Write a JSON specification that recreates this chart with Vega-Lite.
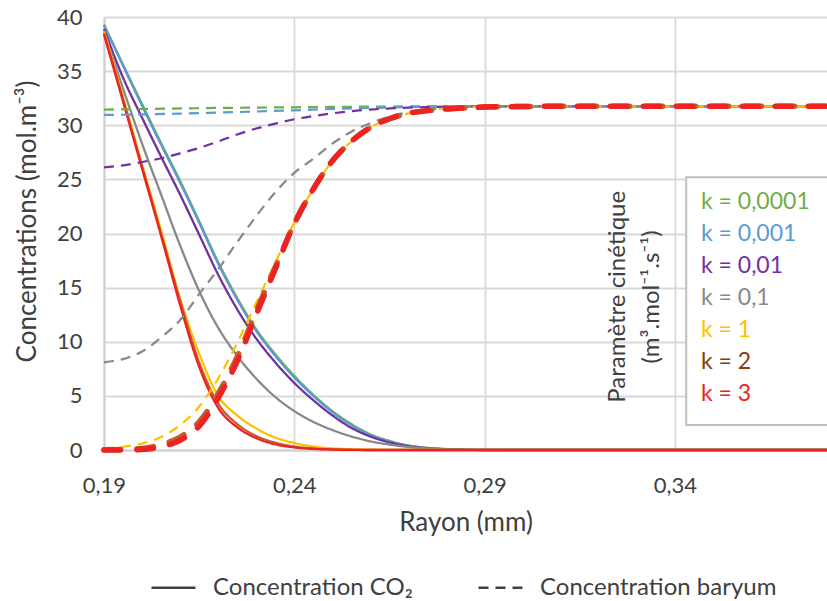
{
"$schema": "https://vega.github.io/schema/vega-lite/v6.json",
"width": 723, "height": 433,
"autosize": {"type": "none"},
"padding": {"left": 104, "top": 17, "right": 0, "bottom": 151},
"background": "white",
"config": {
  "font": "Lato",
  "view": {"stroke": null},
  "axis": {"labelFont": "Lato", "titleFont": "Lato", "labelColor": "#404040", "titleColor": "#404040", "gridColor": "#D9D9D9", "gridWidth": 1.8, "domainColor": "#D0D0D0", "domainWidth": 2, "ticks": false, "labelFontSize": 22, "titleFontSize": 26, "titleFontWeight": "normal"},
  "legend": {"labelFont": "Lato", "titleFont": "Lato", "titleFontWeight": "normal"}
},
"datasets": {"curves": [
{"k":"k = 0,0001","t":"Concentration CO₂","r":0.19,"c":39.3},{"k":"k = 0,0001","t":"Concentration CO₂","r":0.195,"c":35.6},{"k":"k = 0,0001","t":"Concentration CO₂","r":0.2,"c":31.95},{"k":"k = 0,0001","t":"Concentration CO₂","r":0.205,"c":28.35},{"k":"k = 0,0001","t":"Concentration CO₂","r":0.21,"c":24.85},{"k":"k = 0,0001","t":"Concentration CO₂","r":0.215,"c":21.15},{"k":"k = 0,0001","t":"Concentration CO₂","r":0.22,"c":17.35},{"k":"k = 0,0001","t":"Concentration CO₂","r":0.225,"c":14.05},{"k":"k = 0,0001","t":"Concentration CO₂","r":0.23,"c":11.15},{"k":"k = 0,0001","t":"Concentration CO₂","r":0.235,"c":8.85},{"k":"k = 0,0001","t":"Concentration CO₂","r":0.24,"c":6.85},{"k":"k = 0,0001","t":"Concentration CO₂","r":0.245,"c":5.1},{"k":"k = 0,0001","t":"Concentration CO₂","r":0.25,"c":3.6},{"k":"k = 0,0001","t":"Concentration CO₂","r":0.255,"c":2.4},{"k":"k = 0,0001","t":"Concentration CO₂","r":0.26,"c":1.45},{"k":"k = 0,0001","t":"Concentration CO₂","r":0.265,"c":0.85},{"k":"k = 0,0001","t":"Concentration CO₂","r":0.27,"c":0.42},{"k":"k = 0,0001","t":"Concentration CO₂","r":0.275,"c":0.2},{"k":"k = 0,0001","t":"Concentration CO₂","r":0.28,"c":0.09},{"k":"k = 0,0001","t":"Concentration CO₂","r":0.285,"c":0.035},{"k":"k = 0,0001","t":"Concentration CO₂","r":0.29,"c":0.01},{"k":"k = 0,0001","t":"Concentration CO₂","r":0.3,"c":0},{"k":"k = 0,0001","t":"Concentration CO₂","r":0.38,"c":0},
{"k":"k = 0,001","t":"Concentration CO₂","r":0.19,"c":39.2},{"k":"k = 0,001","t":"Concentration CO₂","r":0.195,"c":35.5},{"k":"k = 0,001","t":"Concentration CO₂","r":0.2,"c":31.8},{"k":"k = 0,001","t":"Concentration CO₂","r":0.205,"c":28.2},{"k":"k = 0,001","t":"Concentration CO₂","r":0.21,"c":24.7},{"k":"k = 0,001","t":"Concentration CO₂","r":0.215,"c":21.0},{"k":"k = 0,001","t":"Concentration CO₂","r":0.22,"c":17.2},{"k":"k = 0,001","t":"Concentration CO₂","r":0.225,"c":13.9},{"k":"k = 0,001","t":"Concentration CO₂","r":0.23,"c":11.0},{"k":"k = 0,001","t":"Concentration CO₂","r":0.235,"c":8.7},{"k":"k = 0,001","t":"Concentration CO₂","r":0.24,"c":6.7},{"k":"k = 0,001","t":"Concentration CO₂","r":0.245,"c":5.0},{"k":"k = 0,001","t":"Concentration CO₂","r":0.25,"c":3.5},{"k":"k = 0,001","t":"Concentration CO₂","r":0.255,"c":2.3},{"k":"k = 0,001","t":"Concentration CO₂","r":0.26,"c":1.4},{"k":"k = 0,001","t":"Concentration CO₂","r":0.265,"c":0.8},{"k":"k = 0,001","t":"Concentration CO₂","r":0.27,"c":0.4},{"k":"k = 0,001","t":"Concentration CO₂","r":0.275,"c":0.18},{"k":"k = 0,001","t":"Concentration CO₂","r":0.28,"c":0.08},{"k":"k = 0,001","t":"Concentration CO₂","r":0.285,"c":0.03},{"k":"k = 0,001","t":"Concentration CO₂","r":0.29,"c":0.01},{"k":"k = 0,001","t":"Concentration CO₂","r":0.3,"c":0},{"k":"k = 0,001","t":"Concentration CO₂","r":0.38,"c":0},
{"k":"k = 0,01","t":"Concentration CO₂","r":0.19,"c":38.9},{"k":"k = 0,01","t":"Concentration CO₂","r":0.195,"c":34.4},{"k":"k = 0,01","t":"Concentration CO₂","r":0.2,"c":30.7},{"k":"k = 0,01","t":"Concentration CO₂","r":0.205,"c":27.1},{"k":"k = 0,01","t":"Concentration CO₂","r":0.21,"c":23.6},{"k":"k = 0,01","t":"Concentration CO₂","r":0.215,"c":19.9},{"k":"k = 0,01","t":"Concentration CO₂","r":0.22,"c":16.2},{"k":"k = 0,01","t":"Concentration CO₂","r":0.225,"c":13.0},{"k":"k = 0,01","t":"Concentration CO₂","r":0.23,"c":10.3},{"k":"k = 0,01","t":"Concentration CO₂","r":0.235,"c":8.1},{"k":"k = 0,01","t":"Concentration CO₂","r":0.24,"c":6.2},{"k":"k = 0,01","t":"Concentration CO₂","r":0.245,"c":4.6},{"k":"k = 0,01","t":"Concentration CO₂","r":0.25,"c":3.2},{"k":"k = 0,01","t":"Concentration CO₂","r":0.255,"c":2.05},{"k":"k = 0,01","t":"Concentration CO₂","r":0.26,"c":1.25},{"k":"k = 0,01","t":"Concentration CO₂","r":0.265,"c":0.7},{"k":"k = 0,01","t":"Concentration CO₂","r":0.27,"c":0.35},{"k":"k = 0,01","t":"Concentration CO₂","r":0.275,"c":0.15},{"k":"k = 0,01","t":"Concentration CO₂","r":0.28,"c":0.07},{"k":"k = 0,01","t":"Concentration CO₂","r":0.285,"c":0.02},{"k":"k = 0,01","t":"Concentration CO₂","r":0.29,"c":0},{"k":"k = 0,01","t":"Concentration CO₂","r":0.38,"c":0},
{"k":"k = 0,1","t":"Concentration CO₂","r":0.19,"c":38.6},{"k":"k = 0,1","t":"Concentration CO₂","r":0.195,"c":33.4},{"k":"k = 0,1","t":"Concentration CO₂","r":0.2,"c":28.3},{"k":"k = 0,1","t":"Concentration CO₂","r":0.205,"c":23.6},{"k":"k = 0,1","t":"Concentration CO₂","r":0.21,"c":18.9},{"k":"k = 0,1","t":"Concentration CO₂","r":0.215,"c":14.7},{"k":"k = 0,1","t":"Concentration CO₂","r":0.22,"c":11.3},{"k":"k = 0,1","t":"Concentration CO₂","r":0.225,"c":8.7},{"k":"k = 0,1","t":"Concentration CO₂","r":0.23,"c":6.6},{"k":"k = 0,1","t":"Concentration CO₂","r":0.235,"c":4.9},{"k":"k = 0,1","t":"Concentration CO₂","r":0.24,"c":3.6},{"k":"k = 0,1","t":"Concentration CO₂","r":0.245,"c":2.6},{"k":"k = 0,1","t":"Concentration CO₂","r":0.25,"c":1.85},{"k":"k = 0,1","t":"Concentration CO₂","r":0.255,"c":1.25},{"k":"k = 0,1","t":"Concentration CO₂","r":0.26,"c":0.8},{"k":"k = 0,1","t":"Concentration CO₂","r":0.265,"c":0.5},{"k":"k = 0,1","t":"Concentration CO₂","r":0.27,"c":0.28},{"k":"k = 0,1","t":"Concentration CO₂","r":0.275,"c":0.14},{"k":"k = 0,1","t":"Concentration CO₂","r":0.28,"c":0.06},{"k":"k = 0,1","t":"Concentration CO₂","r":0.285,"c":0.02},{"k":"k = 0,1","t":"Concentration CO₂","r":0.29,"c":0},{"k":"k = 0,1","t":"Concentration CO₂","r":0.38,"c":0},
{"k":"k = 1","t":"Concentration CO₂","r":0.19,"c":38.7},{"k":"k = 1","t":"Concentration CO₂","r":0.195,"c":32.6},{"k":"k = 1","t":"Concentration CO₂","r":0.2,"c":26.4},{"k":"k = 1","t":"Concentration CO₂","r":0.205,"c":20.3},{"k":"k = 1","t":"Concentration CO₂","r":0.21,"c":14.0},{"k":"k = 1","t":"Concentration CO₂","r":0.215,"c":8.9},{"k":"k = 1","t":"Concentration CO₂","r":0.22,"c":5.0},{"k":"k = 1","t":"Concentration CO₂","r":0.225,"c":3.2},{"k":"k = 1","t":"Concentration CO₂","r":0.23,"c":2.0},{"k":"k = 1","t":"Concentration CO₂","r":0.235,"c":1.15},{"k":"k = 1","t":"Concentration CO₂","r":0.24,"c":0.65},{"k":"k = 1","t":"Concentration CO₂","r":0.245,"c":0.32},{"k":"k = 1","t":"Concentration CO₂","r":0.25,"c":0.15},{"k":"k = 1","t":"Concentration CO₂","r":0.255,"c":0.07},{"k":"k = 1","t":"Concentration CO₂","r":0.26,"c":0.03},{"k":"k = 1","t":"Concentration CO₂","r":0.265,"c":0.01},{"k":"k = 1","t":"Concentration CO₂","r":0.27,"c":0},{"k":"k = 1","t":"Concentration CO₂","r":0.38,"c":0},
{"k":"k = 2","t":"Concentration CO₂","r":0.19,"c":38.5},{"k":"k = 2","t":"Concentration CO₂","r":0.195,"c":32.4},{"k":"k = 2","t":"Concentration CO₂","r":0.2,"c":26.2},{"k":"k = 2","t":"Concentration CO₂","r":0.205,"c":20.0},{"k":"k = 2","t":"Concentration CO₂","r":0.21,"c":13.8},{"k":"k = 2","t":"Concentration CO₂","r":0.215,"c":8.1},{"k":"k = 2","t":"Concentration CO₂","r":0.22,"c":4.3},{"k":"k = 2","t":"Concentration CO₂","r":0.225,"c":2.4},{"k":"k = 2","t":"Concentration CO₂","r":0.23,"c":1.3},{"k":"k = 2","t":"Concentration CO₂","r":0.235,"c":0.68},{"k":"k = 2","t":"Concentration CO₂","r":0.24,"c":0.32},{"k":"k = 2","t":"Concentration CO₂","r":0.245,"c":0.14},{"k":"k = 2","t":"Concentration CO₂","r":0.25,"c":0.06},{"k":"k = 2","t":"Concentration CO₂","r":0.255,"c":0.02},{"k":"k = 2","t":"Concentration CO₂","r":0.26,"c":0},{"k":"k = 2","t":"Concentration CO₂","r":0.38,"c":0},
{"k":"k = 3","t":"Concentration CO₂","r":0.19,"c":38.4},{"k":"k = 3","t":"Concentration CO₂","r":0.195,"c":32.2},{"k":"k = 3","t":"Concentration CO₂","r":0.2,"c":26.0},{"k":"k = 3","t":"Concentration CO₂","r":0.205,"c":19.8},{"k":"k = 3","t":"Concentration CO₂","r":0.21,"c":13.4},{"k":"k = 3","t":"Concentration CO₂","r":0.215,"c":7.7},{"k":"k = 3","t":"Concentration CO₂","r":0.22,"c":3.9},{"k":"k = 3","t":"Concentration CO₂","r":0.225,"c":2.1},{"k":"k = 3","t":"Concentration CO₂","r":0.23,"c":1.1},{"k":"k = 3","t":"Concentration CO₂","r":0.235,"c":0.52},{"k":"k = 3","t":"Concentration CO₂","r":0.24,"c":0.24},{"k":"k = 3","t":"Concentration CO₂","r":0.245,"c":0.1},{"k":"k = 3","t":"Concentration CO₂","r":0.25,"c":0.04},{"k":"k = 3","t":"Concentration CO₂","r":0.255,"c":0.01},{"k":"k = 3","t":"Concentration CO₂","r":0.26,"c":0},{"k":"k = 3","t":"Concentration CO₂","r":0.38,"c":0},
{"k":"k = 0,0001","t":"Concentration baryum","r":0.19,"c":31.45},{"k":"k = 0,0001","t":"Concentration baryum","r":0.2,"c":31.5},{"k":"k = 0,0001","t":"Concentration baryum","r":0.21,"c":31.55},{"k":"k = 0,0001","t":"Concentration baryum","r":0.22,"c":31.6},{"k":"k = 0,0001","t":"Concentration baryum","r":0.23,"c":31.63},{"k":"k = 0,0001","t":"Concentration baryum","r":0.24,"c":31.66},{"k":"k = 0,0001","t":"Concentration baryum","r":0.25,"c":31.69},{"k":"k = 0,0001","t":"Concentration baryum","r":0.26,"c":31.72},{"k":"k = 0,0001","t":"Concentration baryum","r":0.27,"c":31.74},{"k":"k = 0,0001","t":"Concentration baryum","r":0.28,"c":31.75},{"k":"k = 0,0001","t":"Concentration baryum","r":0.38,"c":31.75},
{"k":"k = 0,001","t":"Concentration baryum","r":0.19,"c":30.95},{"k":"k = 0,001","t":"Concentration baryum","r":0.2,"c":31.0},{"k":"k = 0,001","t":"Concentration baryum","r":0.21,"c":31.08},{"k":"k = 0,001","t":"Concentration baryum","r":0.22,"c":31.17},{"k":"k = 0,001","t":"Concentration baryum","r":0.23,"c":31.27},{"k":"k = 0,001","t":"Concentration baryum","r":0.24,"c":31.38},{"k":"k = 0,001","t":"Concentration baryum","r":0.25,"c":31.5},{"k":"k = 0,001","t":"Concentration baryum","r":0.26,"c":31.6},{"k":"k = 0,001","t":"Concentration baryum","r":0.27,"c":31.68},{"k":"k = 0,001","t":"Concentration baryum","r":0.28,"c":31.73},{"k":"k = 0,001","t":"Concentration baryum","r":0.38,"c":31.75},
{"k":"k = 0,01","t":"Concentration baryum","r":0.19,"c":26.1},{"k":"k = 0,01","t":"Concentration baryum","r":0.195,"c":26.3},{"k":"k = 0,01","t":"Concentration baryum","r":0.2,"c":26.6},{"k":"k = 0,01","t":"Concentration baryum","r":0.205,"c":26.95},{"k":"k = 0,01","t":"Concentration baryum","r":0.21,"c":27.4},{"k":"k = 0,01","t":"Concentration baryum","r":0.215,"c":27.9},{"k":"k = 0,01","t":"Concentration baryum","r":0.22,"c":28.5},{"k":"k = 0,01","t":"Concentration baryum","r":0.225,"c":29.15},{"k":"k = 0,01","t":"Concentration baryum","r":0.23,"c":29.7},{"k":"k = 0,01","t":"Concentration baryum","r":0.235,"c":30.15},{"k":"k = 0,01","t":"Concentration baryum","r":0.24,"c":30.55},{"k":"k = 0,01","t":"Concentration baryum","r":0.245,"c":30.85},{"k":"k = 0,01","t":"Concentration baryum","r":0.25,"c":31.1},{"k":"k = 0,01","t":"Concentration baryum","r":0.255,"c":31.3},{"k":"k = 0,01","t":"Concentration baryum","r":0.26,"c":31.45},{"k":"k = 0,01","t":"Concentration baryum","r":0.265,"c":31.55},{"k":"k = 0,01","t":"Concentration baryum","r":0.27,"c":31.63},{"k":"k = 0,01","t":"Concentration baryum","r":0.275,"c":31.68},{"k":"k = 0,01","t":"Concentration baryum","r":0.28,"c":31.72},{"k":"k = 0,01","t":"Concentration baryum","r":0.285,"c":31.74},{"k":"k = 0,01","t":"Concentration baryum","r":0.29,"c":31.75},{"k":"k = 0,01","t":"Concentration baryum","r":0.38,"c":31.75},
{"k":"k = 0,1","t":"Concentration baryum","r":0.19,"c":8.1},{"k":"k = 0,1","t":"Concentration baryum","r":0.195,"c":8.4},{"k":"k = 0,1","t":"Concentration baryum","r":0.2,"c":9.1},{"k":"k = 0,1","t":"Concentration baryum","r":0.205,"c":10.4},{"k":"k = 0,1","t":"Concentration baryum","r":0.21,"c":12.0},{"k":"k = 0,1","t":"Concentration baryum","r":0.215,"c":14.4},{"k":"k = 0,1","t":"Concentration baryum","r":0.22,"c":16.7},{"k":"k = 0,1","t":"Concentration baryum","r":0.225,"c":19.2},{"k":"k = 0,1","t":"Concentration baryum","r":0.23,"c":21.6},{"k":"k = 0,1","t":"Concentration baryum","r":0.235,"c":23.8},{"k":"k = 0,1","t":"Concentration baryum","r":0.24,"c":25.6},{"k":"k = 0,1","t":"Concentration baryum","r":0.245,"c":26.9},{"k":"k = 0,1","t":"Concentration baryum","r":0.25,"c":28.3},{"k":"k = 0,1","t":"Concentration baryum","r":0.255,"c":29.4},{"k":"k = 0,1","t":"Concentration baryum","r":0.26,"c":30.2},{"k":"k = 0,1","t":"Concentration baryum","r":0.265,"c":30.8},{"k":"k = 0,1","t":"Concentration baryum","r":0.27,"c":31.2},{"k":"k = 0,1","t":"Concentration baryum","r":0.275,"c":31.45},{"k":"k = 0,1","t":"Concentration baryum","r":0.28,"c":31.6},{"k":"k = 0,1","t":"Concentration baryum","r":0.285,"c":31.7},{"k":"k = 0,1","t":"Concentration baryum","r":0.29,"c":31.75},{"k":"k = 0,1","t":"Concentration baryum","r":0.38,"c":31.75},
{"k":"k = 1","t":"Concentration baryum","r":0.19,"c":0.15},{"k":"k = 1","t":"Concentration baryum","r":0.195,"c":0.3},{"k":"k = 1","t":"Concentration baryum","r":0.2,"c":0.6},{"k":"k = 1","t":"Concentration baryum","r":0.205,"c":1.2},{"k":"k = 1","t":"Concentration baryum","r":0.21,"c":2.3},{"k":"k = 1","t":"Concentration baryum","r":0.215,"c":4.0},{"k":"k = 1","t":"Concentration baryum","r":0.22,"c":6.6},{"k":"k = 1","t":"Concentration baryum","r":0.225,"c":9.9},{"k":"k = 1","t":"Concentration baryum","r":0.23,"c":13.6},{"k":"k = 1","t":"Concentration baryum","r":0.235,"c":17.3},{"k":"k = 1","t":"Concentration baryum","r":0.24,"c":21.0},{"k":"k = 1","t":"Concentration baryum","r":0.245,"c":24.1},{"k":"k = 1","t":"Concentration baryum","r":0.25,"c":26.7},{"k":"k = 1","t":"Concentration baryum","r":0.255,"c":28.5},{"k":"k = 1","t":"Concentration baryum","r":0.26,"c":29.8},{"k":"k = 1","t":"Concentration baryum","r":0.265,"c":30.6},{"k":"k = 1","t":"Concentration baryum","r":0.27,"c":31.1},{"k":"k = 1","t":"Concentration baryum","r":0.275,"c":31.4},{"k":"k = 1","t":"Concentration baryum","r":0.28,"c":31.55},{"k":"k = 1","t":"Concentration baryum","r":0.285,"c":31.65},{"k":"k = 1","t":"Concentration baryum","r":0.29,"c":31.7},{"k":"k = 1","t":"Concentration baryum","r":0.3,"c":31.73},{"k":"k = 1","t":"Concentration baryum","r":0.31,"c":31.75},{"k":"k = 1","t":"Concentration baryum","r":0.38,"c":31.75},
{"k":"k = 2","t":"Concentration baryum","r":0.19,"c":0.02},{"k":"k = 2","t":"Concentration baryum","r":0.195,"c":0.05},{"k":"k = 2","t":"Concentration baryum","r":0.2,"c":0.15},{"k":"k = 2","t":"Concentration baryum","r":0.205,"c":0.5},{"k":"k = 2","t":"Concentration baryum","r":0.21,"c":1.2},{"k":"k = 2","t":"Concentration baryum","r":0.215,"c":2.6},{"k":"k = 2","t":"Concentration baryum","r":0.22,"c":5.2},{"k":"k = 2","t":"Concentration baryum","r":0.225,"c":8.6},{"k":"k = 2","t":"Concentration baryum","r":0.23,"c":12.8},{"k":"k = 2","t":"Concentration baryum","r":0.235,"c":16.9},{"k":"k = 2","t":"Concentration baryum","r":0.24,"c":20.9},{"k":"k = 2","t":"Concentration baryum","r":0.245,"c":24.1},{"k":"k = 2","t":"Concentration baryum","r":0.25,"c":26.7},{"k":"k = 2","t":"Concentration baryum","r":0.255,"c":28.5},{"k":"k = 2","t":"Concentration baryum","r":0.26,"c":29.8},{"k":"k = 2","t":"Concentration baryum","r":0.265,"c":30.6},{"k":"k = 2","t":"Concentration baryum","r":0.27,"c":31.1},{"k":"k = 2","t":"Concentration baryum","r":0.275,"c":31.35},{"k":"k = 2","t":"Concentration baryum","r":0.28,"c":31.5},{"k":"k = 2","t":"Concentration baryum","r":0.285,"c":31.6},{"k":"k = 2","t":"Concentration baryum","r":0.29,"c":31.68},{"k":"k = 2","t":"Concentration baryum","r":0.3,"c":31.73},{"k":"k = 2","t":"Concentration baryum","r":0.31,"c":31.75},{"k":"k = 2","t":"Concentration baryum","r":0.38,"c":31.75},
{"k":"k = 3","t":"Concentration baryum","r":0.19,"c":0},{"k":"k = 3","t":"Concentration baryum","r":0.195,"c":0},{"k":"k = 3","t":"Concentration baryum","r":0.2,"c":0.05},{"k":"k = 3","t":"Concentration baryum","r":0.205,"c":0.3},{"k":"k = 3","t":"Concentration baryum","r":0.21,"c":0.9},{"k":"k = 3","t":"Concentration baryum","r":0.215,"c":2.2},{"k":"k = 3","t":"Concentration baryum","r":0.22,"c":4.8},{"k":"k = 3","t":"Concentration baryum","r":0.225,"c":8.2},{"k":"k = 3","t":"Concentration baryum","r":0.23,"c":12.5},{"k":"k = 3","t":"Concentration baryum","r":0.235,"c":16.7},{"k":"k = 3","t":"Concentration baryum","r":0.24,"c":20.9},{"k":"k = 3","t":"Concentration baryum","r":0.245,"c":24.1},{"k":"k = 3","t":"Concentration baryum","r":0.25,"c":26.7},{"k":"k = 3","t":"Concentration baryum","r":0.255,"c":28.5},{"k":"k = 3","t":"Concentration baryum","r":0.26,"c":29.8},{"k":"k = 3","t":"Concentration baryum","r":0.265,"c":30.6},{"k":"k = 3","t":"Concentration baryum","r":0.27,"c":31.1},{"k":"k = 3","t":"Concentration baryum","r":0.275,"c":31.35},{"k":"k = 3","t":"Concentration baryum","r":0.28,"c":31.5},{"k":"k = 3","t":"Concentration baryum","r":0.285,"c":31.6},{"k":"k = 3","t":"Concentration baryum","r":0.29,"c":31.68},{"k":"k = 3","t":"Concentration baryum","r":0.3,"c":31.73},{"k":"k = 3","t":"Concentration baryum","r":0.31,"c":31.75},{"k":"k = 3","t":"Concentration baryum","r":0.38,"c":31.75}
]},
"layer": [
  {
    "data": {"name": "curves"},
    "transform": [{"filter": "datum.t === 'Concentration CO₂'"}],
    "mark": {"type": "line", "strokeWidth": 2.3, "interpolate": "monotone"},
    "encoding": {
      "x": {"field": "r", "type": "quantitative", "scale": {"domain": [0.19, 0.38], "nice": false, "zero": false},
        "axis": {"title": "Rayon (mm)", "values": [0.19, 0.24, 0.29, 0.34], "labelExpr": "replace(format(datum.value, '.2f'), '.', ',')", "labelPadding": 25, "titleY": 80, "titleBaseline": "alphabetic", "labelFlush": false}},
      "y": {"field": "c", "type": "quantitative", "scale": {"domain": [0, 40], "nice": false},
        "axis": {"title": "Concentrations (mol.m⁻³)", "values": [0, 5, 10, 15, 20, 25, 30, 35, 40], "labelPadding": 22, "titleX": -77, "titleY": 204, "titleAngle": 270, "titleAlign": "center", "titleBaseline": "middle"}},
      "color": {"field": "k", "type": "nominal",
        "scale": {"domain": ["k = 0,0001", "k = 0,001", "k = 0,01", "k = 0,1", "k = 1", "k = 2", "k = 3"], "range": ["#70AD47", "#5B9BD5", "#7030A0", "#888888", "#FFC000", "#C0602A", "#EE2222"]},
        "legend": {"orient": "none", "legendX": 574, "legendY": 173, "direction": "vertical", "title": null,
          "labelFontSize": 23, "symbolSize": 0, "symbolOpacity": 0, "symbolStrokeWidth": 0, "labelOffset": 0, "rowPadding": 8, "labelLimit": 300,
          "encode": {"labels": {"update": {"fill": {"signal": "datum.value === 'k = 2' ? '#843C0C' : scale('color', datum.value)"}}}}}},
      "strokeDash": {"field": "t", "type": "nominal",
        "scale": {"domain": ["Concentration CO₂", "Concentration baryum"], "range": [[1, 0], [10, 7]]},
        "legend": {"orient": "none", "legendX": 46, "legendY": 547, "direction": "horizontal", "title": null, "symbolType": "stroke", "symbolSize": 1936, "symbolStrokeWidth": 2.5, "symbolStrokeColor": "#404040", "labelFontSize": 24, "labelOffset": 16, "columnPadding": 60, "labelColor": "#404040", "labelLimit": 400}}
    }
  },
  {
    "data": {"name": "curves"},
    "transform": [{"filter": "datum.t === 'Concentration baryum' && datum.k !== 'k = 2' && datum.k !== 'k = 3'"}],
    "mark": {"type": "line", "strokeWidth": 2.2, "interpolate": "monotone"},
    "encoding": {
      "x": {"field": "r", "type": "quantitative"},
      "y": {"field": "c", "type": "quantitative"},
      "color": {"field": "k", "type": "nominal"},
      "strokeDash": {"field": "t", "type": "nominal"}
    }
  },
  {
    "data": {"name": "curves"},
    "transform": [{"filter": "datum.t === 'Concentration baryum' && (datum.k === 'k = 2' || datum.k === 'k = 3')"}],
    "mark": {"type": "line", "strokeWidth": 5.5, "strokeDash": [16.5, 16.5], "strokeCap": "round", "interpolate": "monotone"},
    "encoding": {
      "x": {"field": "r", "type": "quantitative"},
      "y": {"field": "c", "type": "quantitative"},
      "color": {"field": "k", "type": "nominal"}
    }
  },
  {
    "data": {"values": [{"box": "legend"}]},
    "mark": {"type": "rect", "fill": "white", "stroke": "#BFBFBF", "strokeWidth": 2},
    "encoding": {
      "x": {"datum": 0.343, "type": "quantitative"},
      "x2": {"datum": 0.4},
      "y": {"datum": 25.2, "type": "quantitative"},
      "y2": {"datum": 2.3}
    }
  },
  {
    "data": {"values": [{"title": "legend"}]},
    "mark": {"type": "text", "angle": 270, "fontSize": 24, "lineHeight": 34, "font": "Lato", "color": "#404040", "align": "center", "baseline": "middle", "text": ["Paramètre cinétique", "(m³.mol⁻¹.s⁻¹)"]},
    "encoding": {
      "x": {"datum": 0.3251, "type": "quantitative"},
      "y": {"datum": 14.15, "type": "quantitative"}
    }
  }
]
}
